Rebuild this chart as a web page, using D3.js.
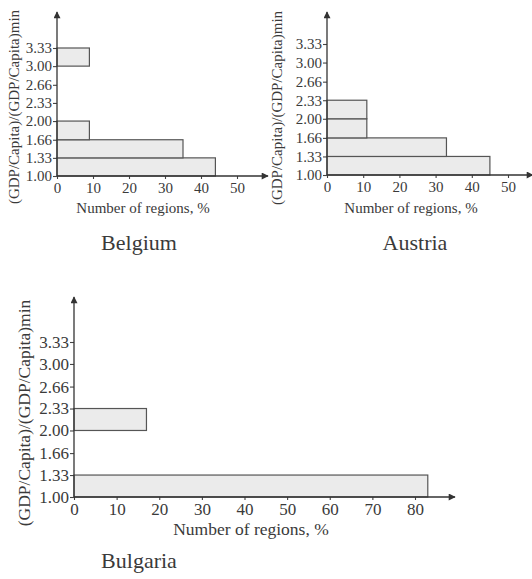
<!DOCTYPE html>
<html>
<head>
<meta charset="utf-8">
<script src="https://cdn.jsdelivr.net/npm/d3@7"></script>
<style>
  body { margin: 0; background: #fff; }
  text { font-family: "Liberation Serif", "Times New Roman", serif; fill: #3a3a3a; }
</style>
</head>
<body>
<div id="chart"></div>
<script>
'use strict';

// band edges (tick labels on the vertical axis)
var yTicks = [1.00, 1.33, 1.66, 2.00, 2.33, 2.66, 3.00, 3.33];
// each bar covers [lower edge, next edge]
var bandLow = [1.00, 1.33, 1.66, 2.00, 2.33, 2.66, 3.00];
var bandHigh = [1.33, 1.66, 2.00, 2.33, 2.66, 3.00, 3.33];

var belgiumValues = [44, 35, 9, 0, 0, 0, 9];
var austriaValues = [45, 33, 11, 11, 0, 0, 0];
var bulgariaValues = [83, 0, 0, 17, 0, 0, 0];

var belgiumTicks = [0, 10, 20, 30, 40, 50];
var austriaTicks = [0, 10, 20, 30, 40, 50];
var bulgariaTicks = [0, 10, 20, 30, 40, 50, 60, 70, 80];

var yLabel = '(GDP/Capita)/(GDP/Capita)min';
var xLabel = 'Number of regions, %';

var svg = d3.select('#chart')
    .append('svg')
    .attr('width', 532)
    .attr('height', 579);

svg.append('defs').append('marker')
    .attr('id', 'arrow')
    .attr('viewBox', '0 0 10 10')
    .attr('refX', 9)
    .attr('refY', 5)
    .attr('markerWidth', 9)
    .attr('markerHeight', 7)
    .attr('markerUnits', 'userSpaceOnUse')
    .attr('orient', 'auto')
    .append('path')
    .attr('d', 'M0,0 L10,5 L0,10 Z')
    .attr('fill', '#333');

function drawPanel(p) {
    var x = d3.scaleLinear().domain([0, p.xMax]).range([p.x0, p.x1]);
    var y = d3.scaleLinear().domain([1.00, 3.33]).range([p.y0, p.y1]);
    var g = svg.append('g');

    var bars = p.values.map(function(v, i) {
        return { lo: bandLow[i], hi: bandHigh[i], value: v };
    }).filter(function(d) { return d.value > 0; });

    g.selectAll('rect.bar')
        .data(bars)
        .enter()
        .append('rect')
        .attr('class', 'bar')
        .attr('x', x(0))
        .attr('y', function(d) { return y(d.hi); })
        .attr('width', function(d) { return x(d.value) - x(0); })
        .attr('height', function(d) { return y(d.lo) - y(d.hi); })
        .attr('fill', '#ebebeb')
        .attr('stroke', '#555')
        .attr('stroke-width', 1.2);

    // axes
    var xAxis = g.append('g')
        .attr('transform', 'translate(0,' + p.y0 + ')')
        .call(d3.axisBottom(x).tickValues(p.xTicks).tickSize(3).tickPadding(3));
    var yAxis = g.append('g')
        .attr('transform', 'translate(' + p.x0 + ',0)')
        .call(d3.axisLeft(y).tickValues(yTicks).tickSize(4).tickPadding(1)
            .tickFormat(d3.format('.2f')));

    [xAxis, yAxis].forEach(function(a) {
        a.select('.domain').remove();
        a.selectAll('line').attr('stroke', '#444').attr('stroke-width', 1.1);
        a.selectAll('text')
            .attr('fill', '#3a3a3a')
            .style('font-size', p.tickSize + 'px')
            .style('font-family', '"Liberation Serif", serif');
    });

    // axis lines with arrowheads
    g.append('line')
        .attr('x1', x(0)).attr('y1', p.y0)
        .attr('x2', p.xArrow).attr('y2', p.y0)
        .attr('stroke', '#333').attr('stroke-width', 1.3)
        .attr('marker-end', 'url(#arrow)');
    g.append('line')
        .attr('x1', p.x0).attr('y1', p.y0)
        .attr('x2', p.x0).attr('y2', p.yArrow)
        .attr('stroke', '#333').attr('stroke-width', 1.3)
        .attr('marker-end', 'url(#arrow)');

    g.append('text')
        .attr('transform', 'translate(' + p.yLabelX + ',' + p.yLabelY + ') rotate(-90)')
        .attr('text-anchor', 'middle')
        .style('font-size', p.labelSize + 'px')
        .text(yLabel);

    g.append('text')
        .attr('x', p.xLabelX)
        .attr('y', p.xLabelY)
        .attr('text-anchor', 'middle')
        .style('font-size', p.labelSize + 'px')
        .text(xLabel);

    g.append('text')
        .attr('x', p.titleX)
        .attr('y', p.titleY)
        .attr('text-anchor', 'middle')
        .style('font-size', '22px')
        .text(p.title);
}

drawPanel({
    title: 'Belgium', values: belgiumValues, xTicks: belgiumTicks, xMax: 50,
    x0: 57, x1: 237, y0: 176, y1: 48, xArrow: 268, yArrow: 12,
    tickSize: 15, labelSize: 15,
    yLabelX: 19, yLabelY: 107, xLabelX: 143, xLabelY: 213,
    titleX: 139, titleY: 250
});

drawPanel({
    title: 'Austria', values: austriaValues, xTicks: austriaTicks, xMax: 50,
    x0: 327, x1: 508, y0: 175, y1: 44, xArrow: 533, yArrow: 12,
    tickSize: 15, labelSize: 15,
    yLabelX: 282, yLabelY: 108, xLabelX: 411, xLabelY: 213,
    titleX: 415, titleY: 250
});

drawPanel({
    title: 'Bulgaria', values: bulgariaValues, xTicks: bulgariaTicks, xMax: 80,
    x0: 74, x1: 415, y0: 497, y1: 342, xArrow: 455, yArrow: 297,
    tickSize: 17, labelSize: 17.5,
    yLabelX: 30, yLabelY: 413, xLabelX: 251, xLabelY: 535,
    titleX: 139, titleY: 568
});
</script>
</body>
</html>
